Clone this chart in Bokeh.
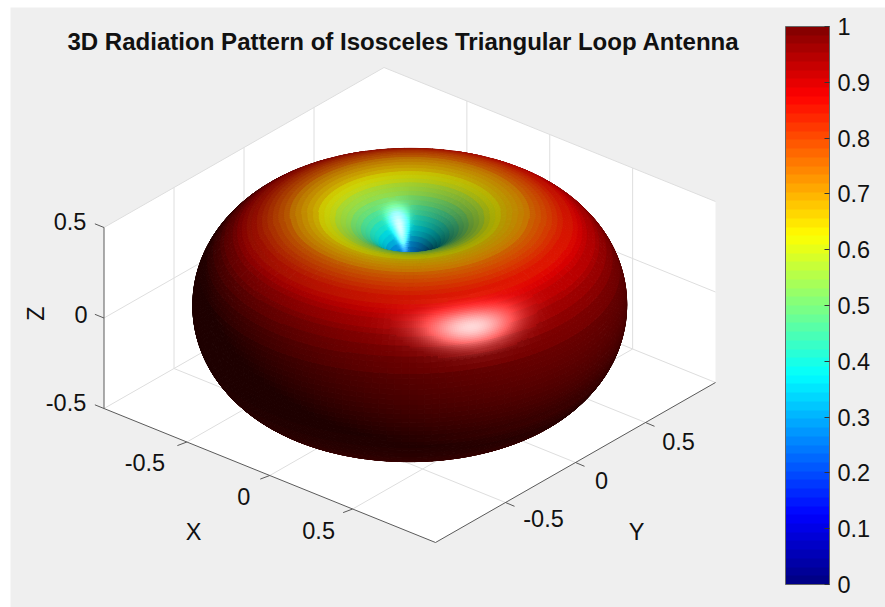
import numpy as np
from bokeh.plotting import figure
from bokeh.models import ColumnDataSource, ColorBar, LinearColorMapper, FixedTicker
from bokeh.core.properties import value
from bokeh.embed import file_html
from bokeh.resources import INLINE

TITLE = "3D Radiation Pattern of Isosceles Triangular Loop Antenna"
X_TICKS = [-0.5, 0, 0.5]
Y_TICKS = [-0.5, 0, 0.5]
Z_TICKS = [-0.5, 0, 0.5]
CB_TICKS = [0, 0.1, 0.2, 0.3, 0.4, 0.5, 0.6, 0.7, 0.8, 0.9, 1]
# normalised pattern, one value per polar-angle row, 0..90 deg
POLAR_DEG = [0, 1.5, 3, 4.5, 6, 7.5, 9, 10.5, 12, 13.5, 15, 16.5, 18, 19.5, 21, 22.5, 24, 25.5, 27, 28.5,
             30, 31.5, 33, 34.5, 36, 37.5, 39, 40.5, 42, 43.5, 45, 46.5, 48, 49.5, 51, 52.5, 54, 55.5, 57, 58.5,
             60, 61.5, 63, 64.5, 66, 67.5, 69, 70.5, 72, 73.5, 75, 76.5, 78, 79.5, 81, 82.5, 84, 85.5, 87, 88.5, 90]
GAIN = [0, .0262, .0523, .0785, .1045, .1305, .1564, .1822, .2079, .2334, .2588, .2840, .3090, .3338, .3584,
        .3827, .4067, .4305, .4540, .4772, .5, .5225, .5446, .5664, .5878, .6088, .6293, .6494, .6691, .6884,
        .7071, .7254, .7431, .7604, .7771, .7934, .8090, .8241, .8387, .8526, .8660, .8788, .8910, .9026, .9135,
        .9239, .9336, .9426, .9511, .9588, .9659, .9724, .9781, .9833, .9877, .9914, .9945, .9969, .9986, .9997, 1]

W, H = 885, 607
GRAY = "#efefef"
FONT = "Liberation Sans"
TXT = "#111111"

# orthographic projection of the axes box onto the page
CX, CY = 409.25, 304.5
def sx(x, y, z): return CX + 165.75 * np.asarray(x) + 140.0 * np.asarray(y)
def sy(x, y, z): return CY + 67.0 * np.asarray(x) - 80.0 * np.asarray(y) - 181.0 * np.asarray(z)

def jet(n):
    out = []
    for i in range(n):
        t = (i + 0.5) / n
        r = np.clip(min(4 * t - 1.5, -4 * t + 4.5), 0, 1)
        g = np.clip(min(4 * t - 0.5, -4 * t + 3.5), 0, 1)
        b = np.clip(min(4 * t + 0.5, -4 * t + 2.5), 0, 1)
        out.append((r, g, b))
    return np.array(out)
JET = jet(64)
def hexc(c):
    return "#%02x%02x%02x" % tuple(int(round(255 * float(v))) for v in c)

p = figure(width=W, height=H, x_range=(0, W), y_range=(H, 0), toolbar_location=None,
           output_backend="svg", x_axis_location=None, y_axis_location=None, min_border=0,
           outline_line_color=None, background_fill_color="white", border_fill_color="white")
p.grid.visible = False

# page panel and white box walls
p.patch([10, W, W, 10], [7, 7, H, H], fill_color=GRAY, line_color=None)
A, B = -1, 1
ZL, ZH = -0.5, 0.5
def face(pts):
    xs = [sx(*q) for q in pts]; ys = [sy(*q) for q in pts]
    p.patch([float(v) for v in xs], [float(v) for v in ys], fill_color="white", line_color=None)
face([(A, A, ZL), (A, B, ZL), (A, B, ZH), (A, A, ZH)])
face([(A, B, ZL), (B, B, ZL), (B, B, ZH), (A, B, ZH)])
face([(A, A, ZL), (A, B, ZL), (B, B, ZL), (B, A, ZL)])

def seg(a, b, color, w=1.0):
    p.line([float(sx(*a)), float(sx(*b))], [float(sy(*a)), float(sy(*b))], line_color=color, line_width=w)

GRID = "#dedede"
for y in Y_TICKS:
    seg((A, y, ZL), (A, y, ZH), GRID)
    seg((A, y, ZL), (B, y, ZL), GRID)
for x in X_TICKS:
    seg((x, B, ZL), (x, B, ZH), GRID)
    seg((x, A, ZL), (x, B, ZL), GRID)
for z in Z_TICKS:
    seg((A, A, z), (A, B, z), GRID)
    seg((A, B, z), (B, B, z), GRID)

AX = "#5a5a5a"
seg((A, A, ZL), (A, A, ZH), AX)
seg((A, A, ZL), (B, A, ZL), AX)
seg((B, A, ZL), (B, B, ZL), AX)
TL = 0.055
for z in Z_TICKS:
    seg((A, A, z), (A - TL, A, z), AX)
for x in X_TICKS:
    a = (x, A, ZL)
    p.line([float(sx(*a)), float(sx(*a)) - 9.5], [float(sy(*a)), float(sy(*a)) + 3.6], line_color=AX)
for y in Y_TICKS:
    a = (B, y, ZL)
    p.line([float(sx(*a)), float(sx(*a)) + 9.0], [float(sy(*a)), float(sy(*a)) + 3.8], line_color=AX)

# surface mesh
th = np.radians(np.array(POLAR_DEG + [180 - d for d in POLAR_DEG[-2::-1]]))
rr = np.array(GAIN + GAIN[-2::-1])
ph = np.radians(np.arange(0, 360.01, 2.0))
T, F = np.meshgrid(th, ph, indexing="ij")
R = np.tile(rr[:, None], (1, len(ph)))
P = np.stack([R * np.sin(T) * np.cos(F), R * np.sin(T) * np.sin(F), R * np.cos(T)], axis=-1)

el = np.arcsin(104.4 / 217.0)
E_R = np.array([165.75, 140.0, 0]) / 217.0
HZ = np.array([140.0, -165.75, 0]) / 217.0
VIEW = np.array([np.cos(el) * HZ[0], np.cos(el) * HZ[1], np.sin(el)])
UP = np.array([-np.sin(el) * HZ[0], -np.sin(el) * HZ[1], np.cos(el)])
LIGHT = 0.445 * E_R + 0.52 * UP + 0.74 * VIEW
LIGHT = LIGHT / np.linalg.norm(LIGHT)
KA, KD, KS, SHINE = 0.22, 0.66, 0.85, 16.0

def shade(n, rval):
    base = JET[np.clip((rval * 64).astype(int), 0, 63)]
    nl = (n * LIGHT).sum(-1)
    refl = 2 * nl[..., None] * n - LIGHT
    rdv = np.clip((refl * VIEW).sum(-1), 0, None)
    spec = KS * rdv ** SHINE * (nl > 0)
    return np.clip(base * (KA + KD * np.clip(nl, 0, None))[..., None] + spec[..., None], 0, 1), spec

p00, p10, p01, p11 = P[:-1, :-1], P[1:, :-1], P[:-1, 1:], P[1:, 1:]
N = np.cross(p11 - p00, p01 - p10)
ln = np.linalg.norm(N, axis=-1, keepdims=True)
valid = ln[..., 0] > 1e-9
ln[~valid] = 1
N = N / ln

# vertex normals, used only to smooth the shading inside bright faces
VN = np.zeros_like(P)
VN[:-1, :-1] += N[:, :]
VN[1:, :-1] += N[:, :]
VN[:-1, 1:] += N[:, :]
VN[1:, 1:] += N[:, :]
VN[:, 0] += VN[:, -1]
VN[:, -1] = VN[:, 0]
VN /= np.maximum(np.linalg.norm(VN, axis=-1, keepdims=True), 1e-9)

mid = (p00 + p10 + p01 + p11) / 4
rmid = (R[:-1, :-1] + R[1:, :-1]) / 2
keep = ((N * VIEW).sum(-1) > -0.03) & valid
col, spec = shade(N, rmid)

SUB = 3
polys = []  # (depth, xs, ys, colour)
for i, j in zip(*np.nonzero(keep)):
    depth = float((mid[i, j] * VIEW).sum())
    if spec[i, j] > 0.04:
        u = np.linspace(0, 1, SUB + 1)
        for a in range(SUB):
            for b in range(SUB):
                corners = [(u[a], u[b]), (u[a + 1], u[b]), (u[a + 1], u[b + 1]), (u[a], u[b + 1])]
                q = np.array([(1 - s) * (1 - t) * P[i, j] + s * (1 - t) * P[i + 1, j]
                              + (1 - s) * t * P[i, j + 1] + s * t * P[i + 1, j + 1] for s, t in corners])
                s, t = (u[a] + u[a + 1]) / 2, (u[b] + u[b + 1]) / 2
                n = ((1 - s) * (1 - t) * VN[i, j] + s * (1 - t) * VN[i + 1, j]
                     + (1 - s) * t * VN[i, j + 1] + s * t * VN[i + 1, j + 1])
                n = n / max(np.linalg.norm(n), 1e-9)
                rv = np.array((1 - s) * R[i, j] + s * R[i + 1, j])
                c, _ = shade(n, rv)
                polys.append((float((q.mean(0) * VIEW).sum()), np.round(sx(q[:, 0], q[:, 1], q[:, 2]), 2).tolist(),
                              np.round(sy(q[:, 0], q[:, 1], q[:, 2]), 2).tolist(), hexc(c)))
    else:
        q = np.array([P[i, j], P[i + 1, j], P[i + 1, j + 1], P[i, j + 1]])
        polys.append((depth, np.round(sx(q[:, 0], q[:, 1], q[:, 2]), 2).tolist(),
                      np.round(sy(q[:, 0], q[:, 1], q[:, 2]), 2).tolist(), hexc(col[i, j])))
polys.sort(key=lambda e: e[0])
src = ColumnDataSource(dict(xs=[e[1] for e in polys], ys=[e[2] for e in polys], c=[e[3] for e in polys]))
p.patches("xs", "ys", source=src, fill_color="c", line_color="c", line_width=1.0)

# texts
def label(x, y, s, size="23.5px", weight="normal", angle=0.0):
    p.text([float(x)], [float(y)], text=[s], text_font=value(FONT), text_font_size=value(size),
           text_font_style=value(weight), text_color=TXT, text_align="center", text_baseline="middle", angle=angle)

fmt = lambda v: "0" if v == 0 else ("%g" % v)
label(403, 41, TITLE, size="24.05px", weight="bold")
for z, ox, oy in zip(Z_TICKS, (-38, -23, -34), (-6, -4, -6)):
    a = (A, A, z)
    label(sx(*a) + ox, sy(*a) + oy, fmt(z))
for x, ox, oy in zip(X_TICKS, (-42, -26, -34), (20, 21, 21)):
    a = (x, A, ZL)
    label(sx(*a) + ox, sy(*a) + oy, fmt(x))
for y, ox, oy in zip(Y_TICKS, (38, 26, 33), (16, 18, 19)):
    a = (B, y, ZL)
    label(sx(*a) + ox, sy(*a) + oy, fmt(y))
label(193, 531, "X")
label(636, 531, "Y")
label(35, 313, "Z", angle=np.pi / 2)

# colour bar
mapper = LinearColorMapper(palette=[hexc(c) for c in JET], low=0, high=1)
cb = ColorBar(color_mapper=mapper, ticker=FixedTicker(ticks=CB_TICKS),
              major_label_overrides={0: "0", 1: "1"},
              major_label_text_font=FONT, major_label_text_font_size="23.5px", major_label_text_color=TXT,
              major_tick_in=5, major_tick_out=0, major_tick_line_color="#333333", minor_tick_line_color=None,
              bar_line_color="#666666", bar_line_width=1, width=44, height=558, padding=0,
              background_fill_alpha=0, border_line_color=None, label_standoff=8,
              location=(785, H - 26 - 558), scale_alpha=1)
p.add_layout(cb)

open("out.html", "w").write(file_html(p, INLINE))
